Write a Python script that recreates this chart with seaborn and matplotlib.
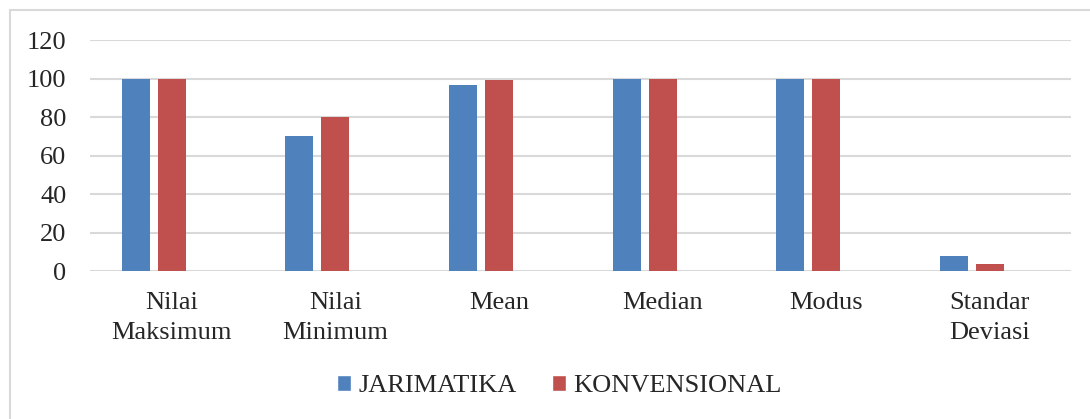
import matplotlib
matplotlib.use("Agg")
import matplotlib.pyplot as plt
from matplotlib.patches import Patch, Rectangle
import numpy as np
import pandas as pd
import seaborn as sns

categories = ["Nilai\nMaksimum", "Nilai\nMinimum", "Mean", "Median", "Modus", "Standar\nDeviasi"]
jarimatika = [100, 70, 96.6, 100, 100, 7.6]
konvensional = [100, 80, 99.2, 100, 100, 3.9]
series = ["JARIMATIKA", "KONVENSIONAL", "_empty"]
colors = ["#4F81BD", "#C0504D", "#FFFFFF"]
yticks = [0, 20, 40, 60, 80, 100, 120]

df = pd.concat([
    pd.DataFrame({"cat": categories, "val": jarimatika, "series": series[0]}),
    pd.DataFrame({"cat": categories, "val": konvensional, "series": series[1]}),
    pd.DataFrame({"cat": categories, "val": [np.nan] * len(categories), "series": series[2]}),
], ignore_index=True)

sns.set_style("white")
plt.rcParams["font.family"] = ["Liberation Serif", "DejaVu Serif"]

fig = plt.figure(figsize=(10.9, 4.19), dpi=100)
ax = fig.add_axes([0.0826, 0.353, 0.9004, 0.5513])

# third (empty) series keeps the Excel-style offset of the bars
sns.barplot(data=df, x="cat", y="val", hue="series", hue_order=series,
            palette=dict(zip(series, colors)), order=categories,
            width=0.66, gap=0.22, legend=False, ax=ax, saturation=1,
            edgecolor="none")

ax.set_ylim(0, 120)
ax.set_xlim(-0.5, len(categories) - 0.5)
ax.set_yticks(yticks)
ax.yaxis.grid(True, color="#D9D9D9", linewidth=1.5)
ax.set_axisbelow(True)
for s in ax.spines.values():
    s.set_visible(False)
ax.tick_params(axis="y", length=0, pad=17, labelsize=19)
ax.tick_params(axis="x", length=0, pad=15, labelsize=19)
for lbl in ax.get_xticklabels():
    lbl.set_linespacing(1.45)
ax.set_xlabel("")
ax.set_ylabel("")

handles = [Patch(facecolor=colors[0], label=series[0]),
           Patch(facecolor=colors[1], label=series[1])]
fig.legend(handles=handles, loc="center", bbox_to_anchor=(0.513, 0.079), ncol=2,
           frameon=False, fontsize=19, handlelength=0.55, handleheight=0.55,
           handletextpad=0.25, columnspacing=1.35)

fig.patches.append(Rectangle((10 / 1090, -0.1), 1.2, 1.1 - 10 / 419,
                             transform=fig.transFigure, fill=False,
                             edgecolor="#D9D9D9", linewidth=1.5))

fig.savefig("out.png", dpi=100)
